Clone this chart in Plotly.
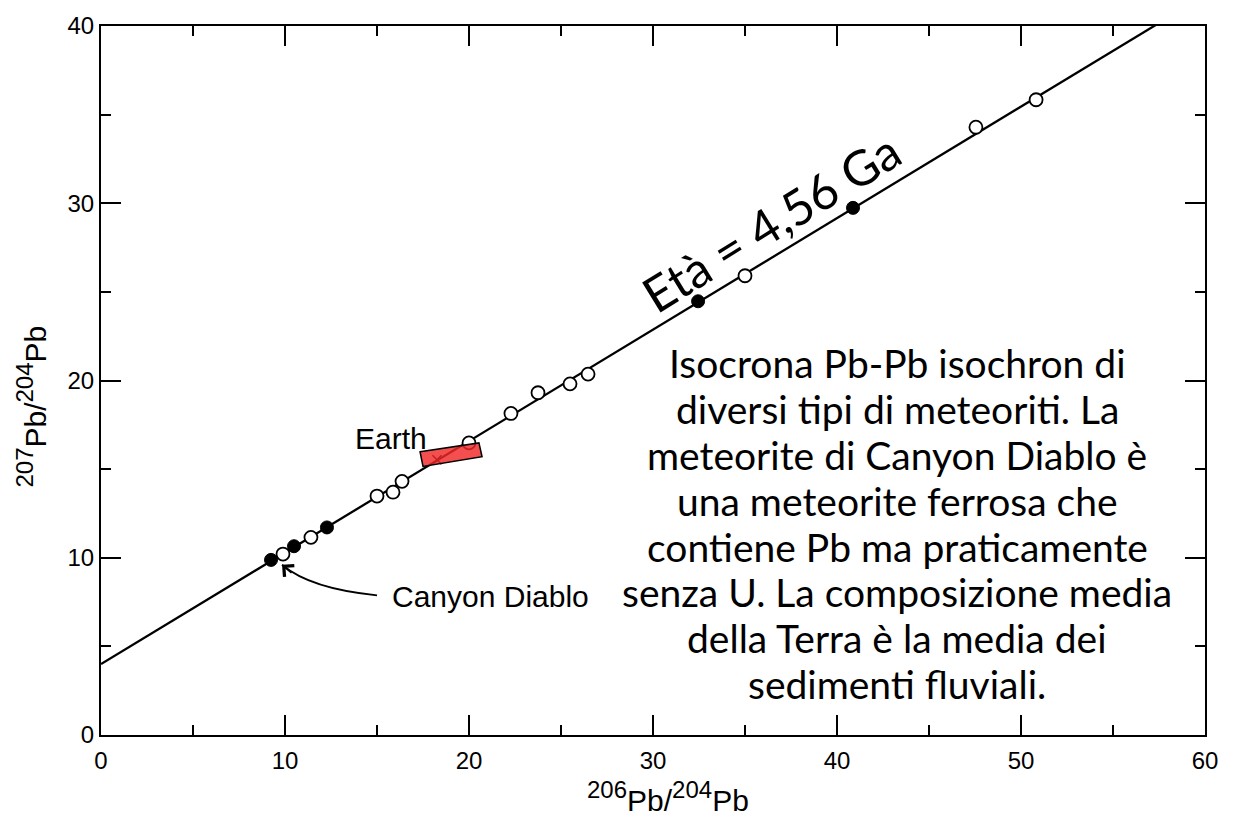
import plotly.graph_objects as go

# Pb-Pb isochron (207Pb/204Pb = intercept + slope * 206Pb/204Pb)
isochron_intercept = 4.0
isochron_slope = 0.629
isochron_x = [0, 60]

# Meteorite analyses: filled symbols
filled_x = [9.24, 10.49, 12.28, 32.45, 40.87]
filled_y = [9.88, 10.65, 11.71, 24.47, 29.74]

# Meteorite analyses: open symbols
open_x = [9.89, 11.41, 15.00, 15.87, 16.36, 20.00, 22.28, 23.75, 25.49, 26.47, 35.00, 47.55, 50.82]
open_y = [10.21, 11.15, 13.48, 13.70, 14.31, 16.48, 18.14, 19.31, 19.81, 20.36, 25.91, 34.29, 35.84]

# Mean Earth composition (river sediments) and its spread
earth_x = [18.26]
earth_y = [15.53]
earth_box_x = [17.34, 20.54, 20.71, 17.50]
earth_box_y = [15.98, 16.48, 15.70, 15.15]

x_ticks = [0, 10, 20, 30, 40, 50, 60]
y_ticks = [0, 10, 20, 30, 40]

age_label = "Età = 4,56 Ga"
note_lines = [
    "Isocrona Pb-Pb isochron di",
    "diversi tipi di meteoriti. La",
    "meteorite di Canyon Diablo è",
    "una meteorite ferrosa che",
    "contiene Pb ma praticamente",
    "senza U. La composizione media",
    "della Terra è la media dei",
    "sedimenti fluviali.",
]

# plot-area geometry (pixels)
W, H = 1234, 820
L, R, T, B = 101, 29, 14, 85
px_per_x = (W - L - R) / (x_ticks[-1] - x_ticks[0])
px_per_y = (H - T - B) / (y_ticks[-1] - y_ticks[0])


def dx(px):
    return px / px_per_x


def dy(py):
    return py / px_per_y


fig = go.Figure()

iso_y = [isochron_intercept + isochron_slope * v for v in isochron_x]
fig.add_trace(go.Scatter(x=isochron_x, y=iso_y, mode="lines",
                         line=dict(color="black", width=2.3), hoverinfo="skip"))

fig.add_trace(go.Scatter(x=earth_x, y=earth_y, mode="markers",
                         marker=dict(symbol="x-thin", size=9, color="black",
                                     line=dict(color="black", width=1.6))))

fig.add_trace(go.Scatter(x=open_x, y=open_y, mode="markers",
                         marker=dict(symbol="circle", size=13, color="white",
                                     line=dict(color="black", width=1.8))))

fig.add_trace(go.Scatter(x=filled_x, y=filled_y, mode="markers",
                         marker=dict(symbol="circle", size=13, color="black",
                                     line=dict(color="black", width=1))))

# Earth field (semi-transparent red box)
box_path = "M " + " L ".join(f"{a},{b}" for a, b in zip(earth_box_x, earth_box_y)) + " Z"
fig.add_shape(type="path", path=box_path, xref="x", yref="y",
              fillcolor="rgba(242,40,40,0.82)", line=dict(color="black", width=1.5),
              layer="above")

# curved arrow to the Canyon Diablo analysis
cd_x, cd_y = filled_x[0], filled_y[0]
head = (cd_x + dx(11), cd_y - dy(5))
ctrl = (cd_x + dx(39.5), cd_y - dy(29.5))
tail = (cd_x + dx(106), cd_y - dy(36))
fig.add_shape(type="path", xref="x", yref="y",
              path=f"M {tail[0]},{tail[1]} Q {ctrl[0]},{ctrl[1]} {head[0]},{head[1]}",
              line=dict(color="black", width=1.8))
fig.add_annotation(x=head[0], y=head[1], ax=11, ay=9.5, axref="pixel", ayref="pixel",
                   text="", showarrow=True, arrowhead=4, arrowsize=1.8,
                   arrowwidth=1.6, arrowcolor="black", standoff=0)

label_font = dict(family="Liberation Sans, Arial, sans-serif", size=30, color="black")
fig.add_annotation(x=15.71, y=7.80, text="Canyon Diablo", showarrow=False,
                   xanchor="left", yanchor="middle", font=label_font)
fig.add_annotation(x=13.70, y=16.70, text="Earth", showarrow=False,
                   xanchor="left", yanchor="middle", font=label_font)

# isochron age along the line
fig.add_annotation(x=36.40, y=28.96, text=age_label, showarrow=False,
                   textangle=-31.66, xanchor="center", yanchor="middle",
                   font=dict(family="Lato, sans-serif", size=49, color="black"))

# explanatory note
note_font = dict(family="Lato, sans-serif", size=39, color="black")
for i, line in enumerate(note_lines):
    py = 357 + 46.6 * i
    fig.add_annotation(x=dx(897 - L), y=(H - B - py) / px_per_y, text=line,
                       showarrow=False, xanchor="center", yanchor="middle",
                       font=note_font)

# axis titles
sup = '<sup><span style="font-size:24px">{}</span></sup>'
title_font = dict(family="Liberation Sans, Arial, sans-serif", size=30, color="black")
fig.add_annotation(xref="paper", yref="paper", x=(668 - L) / (W - L - R),
                   y=-(798 - (H - B)) / (H - T - B),
                   text=sup.format("206") + "Pb/" + sup.format("204") + "Pb",
                   showarrow=False, xanchor="center", yanchor="middle", font=title_font)
fig.add_annotation(xref="paper", yref="paper", x=-(L - 32) / (W - L - R),
                   y=(H - B - 401) / (H - T - B), textangle=-90,
                   text=sup.format("207") + "Pb/" + sup.format("204") + "Pb",
                   showarrow=False, xanchor="center", yanchor="middle", font=title_font)

axis_common = dict(showgrid=False, zeroline=False, showline=True, linecolor="black",
                   linewidth=2, mirror="ticks", ticks="inside", ticklen=20,
                   tickwidth=2, tickcolor="black",
                   tickfont=dict(family="Liberation Sans, Arial, sans-serif", size=24,
                                 color="black"),
                   minor=dict(ticks="inside", ticklen=10, tickwidth=2,
                              tickcolor="black", dtick=5))

fig.update_xaxes(range=[x_ticks[0], x_ticks[-1]], tickvals=x_ticks,
                 ticklabelstandoff=3, **axis_common)
fig.update_yaxes(range=[y_ticks[0], y_ticks[-1]], tickvals=y_ticks, **axis_common)

fig.update_layout(width=W, height=H, autosize=False, showlegend=False,
                  margin=dict(l=L, r=R, t=T, b=B),
                  plot_bgcolor="white", paper_bgcolor="white")

fig.write_html("out.html")
